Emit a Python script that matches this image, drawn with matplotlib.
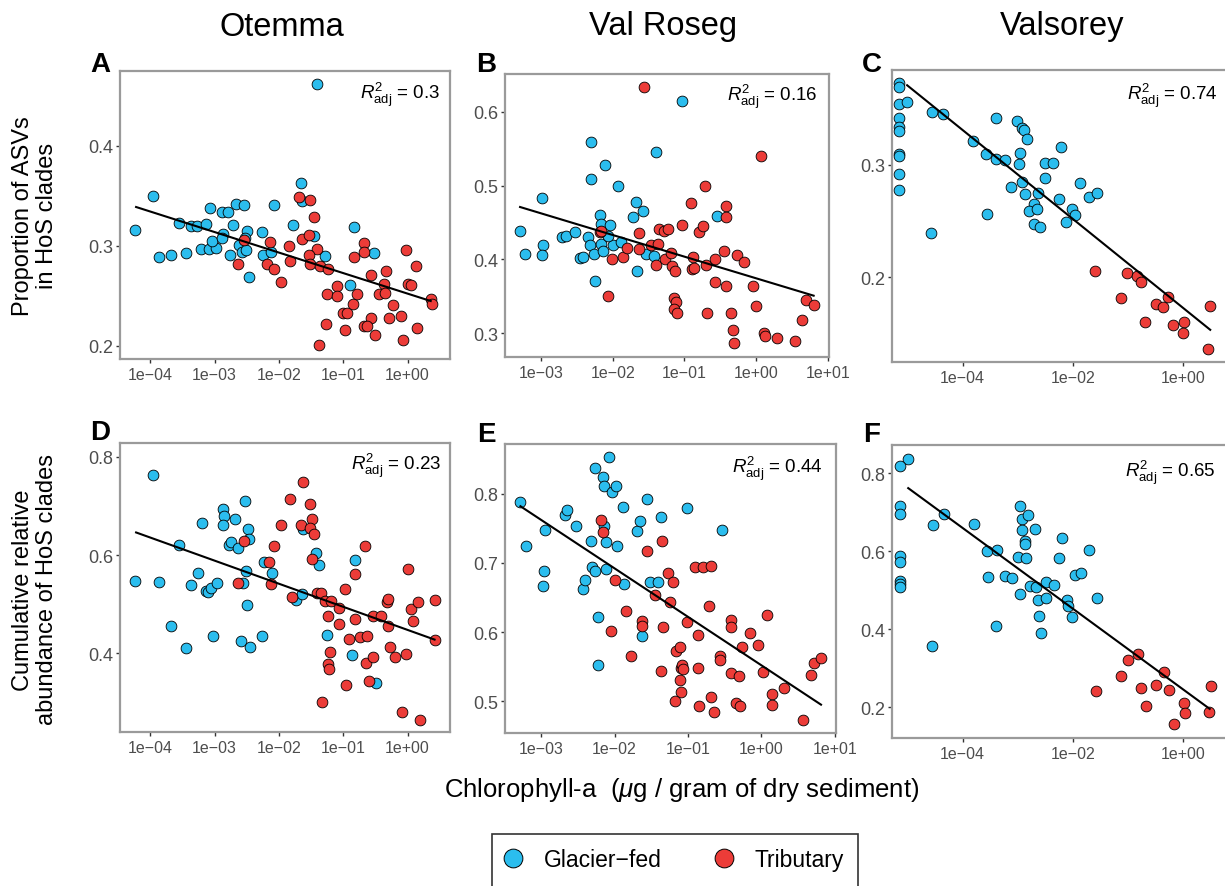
import numpy as np
import matplotlib
matplotlib.use("Agg")
import matplotlib.pyplot as plt
from matplotlib.lines import Line2D
from matplotlib.patches import Rectangle
from matplotlib.ticker import NullLocator

# chlorophyll-a is kept as log10(ug / g dry sediment)

# A - Otemma, proportion of ASVs in HoS clades
a_gf_x = [-1.41, -4.23, -3.96, -3.86, -3.68, -3.55, -3.45, -3.37, -3.27, -3.14, -3.21, -3.09, -2.97, -3.07,
          -3.04, -2.88, -2.79, -2.87, -2.89, -2.67, -2.54, -2.71, -2.76, -2.62, -2.57, -2.51, -2.49, -2.52,
          -2.46, -2.27, -2.25, -2.13, -2.07, -1.78, -1.66, -1.64, -1.45, -1.28, -0.89, -0.83, -0.52]
a_gf_y = [0.462, 0.316, 0.350, 0.289, 0.291, 0.323, 0.293, 0.320, 0.320, 0.322, 0.297, 0.297, 0.298, 0.338,
          0.305, 0.334, 0.334, 0.312, 0.308, 0.342, 0.341, 0.321, 0.291, 0.301, 0.294, 0.296, 0.315, 0.308,
          0.269, 0.314, 0.291, 0.294, 0.341, 0.321, 0.363, 0.345, 0.310, 0.290, 0.261, 0.319, 0.293]
a_tr_x = [-2.54, -2.64, -2.18, -2.14, -2.08, -1.97, -1.85, -1.82, -1.68, -1.51, -1.46, -1.64, -1.53, -1.40,
          -1.53, -1.51, -1.36, -1.23, -1.37, -1.09, -1.25, -1.09, -1.26, -1.00, -0.94, -0.98, -0.85, -0.79,
          -0.84, -0.68, -0.67, -0.57, -0.57, -0.68, -0.63, -0.51, -0.45, -0.36, -0.33, -0.35, -0.29, -0.23,
          -0.10, -0.07, -0.03, 0.01, 0.05, 0.13, 0.15, 0.37, 0.38]
a_tr_y = [0.306, 0.282, 0.282, 0.304, 0.277, 0.264, 0.300, 0.285, 0.349, 0.346, 0.329, 0.307, 0.311, 0.297,
          0.291, 0.282, 0.280, 0.277, 0.201, 0.260, 0.252, 0.250, 0.222, 0.233, 0.233, 0.216, 0.242, 0.252,
          0.289, 0.303, 0.294, 0.271, 0.228, 0.220, 0.220, 0.211, 0.252, 0.262, 0.275, 0.253, 0.228, 0.241,
          0.230, 0.206, 0.296, 0.262, 0.261, 0.280, 0.218, 0.247, 0.242]
a_fit_x = [-4.22, 0.36]
a_fit_y = [0.339, 0.245]

# B - Val Roseg, proportion of ASVs in HoS clades
b_gf_x = [-3.29, -3.22, -2.98, -2.97, -2.98, -2.70, -2.65, -2.53, -2.45, -2.41, -2.34, -2.32, -2.30, -2.30,
          -2.26, -2.24, -2.17, -2.16, -2.16, -2.14, -2.10, -2.04, -1.99, -2.06, -1.92, -1.89, -1.71, -1.67,
          -1.66, -1.58, -1.53, -1.42, -1.40, -1.03, -0.55]
b_gf_y = [0.438, 0.407, 0.483, 0.420, 0.406, 0.430, 0.432, 0.437, 0.402, 0.404, 0.430, 0.419, 0.559, 0.509,
          0.408, 0.371, 0.460, 0.448, 0.421, 0.412, 0.528, 0.446, 0.420, 0.432, 0.499, 0.423, 0.457, 0.478,
          0.384, 0.466, 0.407, 0.405, 0.546, 0.615, 0.459]
b_tr_x = [-1.57, -2.18, -2.16, -2.06, -2.01, -1.85, -1.80, -1.63, -1.63, -1.46, -1.37, -1.39, -1.36, -1.29,
          -1.23, -1.27, -1.19, -1.18, -1.13, -1.14, -1.12, -1.14, -1.10, -1.03, -0.91, -0.88, -0.89, -0.87,
          -0.80, -0.74, -0.71, -0.70, -0.68, -0.58, -0.58, -0.45, -0.42, -0.42, -0.42, -0.35, -0.33, -0.31,
          -0.27, -0.17, -0.05, 0.00, 0.06, 0.11, 0.12, 0.29, 0.54, 0.64, 0.70, 0.80]
b_tr_y = [0.634, 0.437, 0.438, 0.350, 0.400, 0.403, 0.416, 0.436, 0.414, 0.419, 0.421, 0.392, 0.441, 0.439,
          0.441, 0.401, 0.409, 0.391, 0.384, 0.348, 0.342, 0.333, 0.328, 0.447, 0.477, 0.403, 0.387, 0.389,
          0.437, 0.445, 0.499, 0.393, 0.327, 0.369, 0.400, 0.412, 0.473, 0.457, 0.364, 0.327, 0.304, 0.287,
          0.406, 0.396, 0.364, 0.337, 0.540, 0.300, 0.296, 0.294, 0.290, 0.318, 0.345, 0.339]
b_fit_x = [-3.29, 0.80]
b_fit_y = [0.471, 0.351]

# C - Valsorey, proportion of ASVs in HoS clades
c_gf_x = [-5.16, -5.16, -5.16, -5.01, -5.16, -5.16, -5.16, -5.16, -5.16, -5.16, -5.16, -4.55, -4.35, -4.57,
          -3.81, -3.57, -3.55, -3.40, -3.39, -3.23, -3.13, -3.01, -2.96, -2.98, -2.93, -2.89, -2.83, -2.93,
          -2.86, -2.70, -2.80, -2.64, -2.70, -2.60, -2.63, -2.51, -2.51, -2.36, -2.21, -2.25, -2.12, -2.01,
          -1.95, -1.86, -1.71, -1.56]
c_gf_y = [0.373, 0.369, 0.354, 0.356, 0.342, 0.334, 0.330, 0.310, 0.308, 0.292, 0.278, 0.347, 0.345, 0.239,
          0.321, 0.310, 0.256, 0.342, 0.305, 0.304, 0.280, 0.339, 0.311, 0.301, 0.333, 0.331, 0.323, 0.285,
          0.274, 0.265, 0.259, 0.261, 0.247, 0.245, 0.275, 0.288, 0.302, 0.302, 0.316, 0.270, 0.249, 0.261,
          0.255, 0.284, 0.271, 0.275]
c_tr_x = [-1.59, -1.13, -1.01, -0.83, -0.75, -0.69, -0.49, -0.36, -0.27, -0.17, 0.02, 0.01, 0.46, 0.50]
c_tr_y = [0.205, 0.181, 0.204, 0.201, 0.196, 0.160, 0.176, 0.173, 0.182, 0.157, 0.160, 0.150, 0.136, 0.174]
c_fit_x = [-5.01, 0.50]
c_fit_y = [0.371, 0.153]

# D - Otemma, cumulative relative abundance of HoS clades
d_gf_x = [-4.23, -3.96, -3.86, -3.68, -3.55, -3.45, -3.36, -3.26, -3.20, -3.13, -3.10, -3.06, -2.96, -3.03,
          -2.87, -2.86, -2.87, -2.69, -2.78, -2.75, -2.64, -2.53, -2.48, -2.47, -2.51, -2.56, -2.49, -2.59,
          -2.45, -2.26, -2.23, -2.11, -1.74, -1.64, -1.63, -1.43, -1.38, -1.25, -0.87, -0.81, -0.49]
d_gf_y = [0.548, 0.763, 0.546, 0.455, 0.621, 0.411, 0.540, 0.563, 0.666, 0.526, 0.524, 0.534, 0.544, 0.436,
          0.693, 0.680, 0.662, 0.673, 0.620, 0.626, 0.614, 0.709, 0.653, 0.632, 0.567, 0.544, 0.499, 0.425,
          0.413, 0.436, 0.586, 0.563, 0.509, 0.521, 0.653, 0.604, 0.580, 0.438, 0.396, 0.589, 0.340]
d_tr_x = [-2.64, -2.54, -2.16, -2.12, -2.07, -1.96, -1.83, -1.79, -1.66, -1.62, -1.51, -1.49, -1.51, -1.45,
          -1.49, -1.40, -1.34, -1.29, -1.19, -1.23, -1.20, -1.23, -1.22, -1.33, -1.06, -1.06, -0.98, -0.95,
          -0.91, -0.82, -0.81, -0.74, -0.63, -0.66, -0.65, -0.54, -0.60, -0.53, -0.42, -0.32, -0.30, -0.31,
          -0.27, -0.19, -0.03, -0.08, 0.01, 0.05, 0.09, 0.17, 0.19, 0.42, 0.42]
d_tr_y = [0.544, 0.628, 0.585, 0.542, 0.618, 0.662, 0.714, 0.514, 0.662, 0.748, 0.704, 0.674, 0.656, 0.643,
          0.592, 0.523, 0.523, 0.506, 0.507, 0.477, 0.402, 0.379, 0.369, 0.301, 0.492, 0.460, 0.531, 0.336,
          0.429, 0.470, 0.561, 0.433, 0.436, 0.619, 0.380, 0.392, 0.343, 0.477, 0.475, 0.504, 0.511, 0.455,
          0.413, 0.392, 0.398, 0.281, 0.572, 0.490, 0.465, 0.504, 0.265, 0.509, 0.428]
d_fit_x = [-4.22, 0.42]
d_fit_y = [0.646, 0.428]

# E - Val Roseg, cumulative relative abundance of HoS clades
e_gf_x = [-3.28, -3.21, -2.95, -2.96, -2.97, -2.68, -2.64, -2.52, -2.43, -2.40, -2.32, -2.31, -2.27, -2.27,
          -2.22, -2.23, -2.15, -2.14, -2.14, -2.11, -2.11, -2.08, -2.03, -1.98, -1.97, -1.89, -1.87, -1.69,
          -1.65, -1.56, -1.63, -1.52, -1.41, -1.37, -1.01, -0.54]
e_gf_y = [0.788, 0.725, 0.747, 0.689, 0.666, 0.770, 0.777, 0.753, 0.663, 0.675, 0.731, 0.694, 0.689, 0.837,
          0.622, 0.552, 0.824, 0.811, 0.753, 0.730, 0.691, 0.853, 0.802, 0.811, 0.724, 0.781, 0.669, 0.746,
          0.760, 0.793, 0.594, 0.673, 0.672, 0.766, 0.779, 0.748]
e_tr_x = [-2.18, -2.15, -1.99, -2.05, -1.84, -1.78, -1.62, -1.62, -1.56, -1.45, -1.36, -1.34, -1.37, -1.27,
          -1.21, -1.25, -1.16, -1.11, -1.10, -1.08, -1.07, -1.11, -1.09, -1.18, -1.02, -0.90, -0.79, -0.69,
          -0.86, -0.87, -0.85, -0.72, -0.69, -0.65, -0.57, -0.56, -0.42, -0.42, -0.41, -0.31, -0.34, -0.29,
          -0.26, -0.16, -0.05, 0.02, 0.08, 0.14, 0.14, 0.31, 0.57, 0.67, 0.72, 0.81]
e_tr_y = [0.762, 0.745, 0.676, 0.602, 0.631, 0.566, 0.616, 0.609, 0.717, 0.654, 0.731, 0.607, 0.543, 0.686,
          0.672, 0.643, 0.572, 0.578, 0.548, 0.552, 0.546, 0.530, 0.513, 0.500, 0.615, 0.694, 0.694, 0.696,
          0.596, 0.548, 0.493, 0.638, 0.506, 0.485, 0.566, 0.559, 0.618, 0.607, 0.541, 0.536, 0.498, 0.493,
          0.578, 0.599, 0.581, 0.542, 0.625, 0.511, 0.495, 0.519, 0.473, 0.538, 0.555, 0.562]
e_fit_x = [-3.28, 0.81]
e_fit_y = [0.782, 0.495]

# F - Valsorey, cumulative relative abundance of HoS clades
f_gf_x = [-4.99, -5.14, -5.14, -5.14, -5.14, -5.14, -5.14, -5.14, -5.14, -4.55, -4.54, -4.34, -3.80, -3.55,
          -3.37, -3.54, -3.39, -3.23, -3.11, -2.96, -2.93, -2.81, -2.92, -2.87, -2.87, -2.69, -2.99, -2.84,
          -2.96, -2.78, -2.66, -2.63, -2.61, -2.58, -2.49, -2.49, -2.34, -2.25, -2.20, -2.10, -2.08, -2.01,
          -1.95, -1.85, -1.70, -1.55]
f_gf_y = [0.837, 0.820, 0.715, 0.696, 0.589, 0.572, 0.525, 0.516, 0.509, 0.358, 0.668, 0.696, 0.670, 0.602,
          0.604, 0.535, 0.409, 0.536, 0.531, 0.717, 0.683, 0.693, 0.655, 0.627, 0.619, 0.657, 0.585, 0.583,
          0.491, 0.510, 0.509, 0.476, 0.433, 0.391, 0.480, 0.521, 0.514, 0.583, 0.634, 0.474, 0.461, 0.432,
          0.538, 0.544, 0.604, 0.480]
f_tr_x = [-1.58, -1.12, -0.99, -0.81, -0.75, -0.67, -0.48, -0.34, -0.25, -0.16, 0.02, 0.04, 0.48, 0.52]
f_tr_y = [0.243, 0.281, 0.321, 0.337, 0.250, 0.204, 0.257, 0.290, 0.245, 0.156, 0.210, 0.185, 0.187, 0.254]
f_fit_x = [-4.99, 0.49]
f_fit_y = [0.762, 0.196]

r2_labels = ["0.3", "0.16", "0.74", "0.23", "0.44", "0.65"]
sites = ["Otemma", "Val Roseg", "Valsorey"]
panel_letters = ["A", "B", "C", "D", "E", "F"]
group_names = ["Glacier\u2212fed", "Tributary"]

xtick_exps_otemma = [-4, -3, -2, -1, 0]
xtick_exps_roseg = [-3, -2, -1, 0, 1]
xtick_exps_valsorey = [-4, -2, 0]
yticks_top = [[0.2, 0.3, 0.4], [0.3, 0.4, 0.5, 0.6], [0.2, 0.3]]
yticks_bottom = [[0.4, 0.6, 0.8], [0.5, 0.6, 0.7, 0.8], [0.2, 0.4, 0.6, 0.8]]

BLUE = "#2BBDEE"
RED = "#EC3C38"
W, H = 1225, 887


def box(left, top, right, bottom):
    return [left / W, 1 - bottom / H, (right - left) / W, (bottom - top) / H]


def fx(x):
    return x / W


def fy(y):
    return 1 - y / H


def exp_label(e):
    return ("1e%+03d" % e).replace("-", "\u2212")


def draw_panel(fig, rect, xlim, ylim, xexps, yticks, gf, tr, fit, r2, r2_pos):
    ax = fig.add_axes(rect)
    ax.set_xscale("log")
    ax.scatter(10 ** np.array(gf[0]), gf[1], s=60, c=BLUE, edgecolors="black", linewidths=0.6, zorder=2)
    ax.scatter(10 ** np.array(tr[0]), tr[1], s=60, c=RED, edgecolors="black", linewidths=0.6, zorder=2)
    ax.plot(10 ** np.array(fit[0]), fit[1], color="black", lw=1.5, zorder=3)
    ax.set_xlim(10 ** xlim[0], 10 ** xlim[1])
    ax.set_ylim(*ylim)
    ax.set_xticks([10.0 ** e for e in xexps])
    ax.set_xticklabels([exp_label(e) for e in xexps])
    ax.xaxis.set_minor_locator(NullLocator())
    ax.set_yticks(yticks)
    ax.set_yticklabels(["%.1f" % v for v in yticks])
    ax.tick_params(axis="x", labelsize=11.5, color="#333333", labelcolor="#4D4D4D", length=3, width=1, pad=3)
    ax.tick_params(axis="y", labelsize=13, color="#333333", labelcolor="#4D4D4D", length=3, width=1, pad=2)
    for sp in ax.spines.values():
        sp.set_color("#9A9A9A")
        sp.set_linewidth(1.6)
    fig.text(fx(r2_pos[0]), fy(r2_pos[1]), r"$R^{2}_{\mathrm{adj}}$ = " + r2,
             ha="right", va="baseline", fontsize=13.5)
    return ax


def main():
    plt.rcParams["font.family"] = ["Liberation Sans", "DejaVu Sans"]
    plt.rcParams["mathtext.fontset"] = "custom"
    plt.rcParams["mathtext.rm"] = "Liberation Sans"
    plt.rcParams["mathtext.it"] = "Liberation Sans:italic"
    plt.rcParams["mathtext.bf"] = "Liberation Sans:bold"

    fig = plt.figure(figsize=(W / 100, H / 100), dpi=100)

    panels = [
        (box(120, 72, 450, 360), (-4.47, 0.66), (0.187, 0.475), xtick_exps_otemma, yticks_top[0],
         (a_gf_x, a_gf_y), (a_tr_x, a_tr_y), (a_fit_x, a_fit_y), (440, 99)),
        (box(505, 75, 829, 358), (-3.50, 1.014), (0.268, 0.651), xtick_exps_roseg, yticks_top[1],
         (b_gf_x, b_gf_y), (b_tr_x, b_tr_y), (b_fit_x, b_fit_y), (818, 101)),
        (box(892, 71, 1227, 363), (-5.285, 0.805), (0.1243, 0.3846), xtick_exps_valsorey, yticks_top[2],
         (c_gf_x, c_gf_y), (c_tr_x, c_tr_y), (c_fit_x, c_fit_y), (1218, 100)),
        (box(120, 444, 450, 733), (-4.47, 0.66), (0.240, 0.828), xtick_exps_otemma, yticks_bottom[0],
         (d_gf_x, d_gf_y), (d_tr_x, d_tr_y), (d_fit_x, d_fit_y), (442, 470)),
        (box(505, 445, 836, 734), (-3.49, 1.014), (0.454, 0.872), xtick_exps_roseg, yticks_bottom[1],
         (e_gf_x, e_gf_y), (e_tr_x, e_tr_y), (e_fit_x, e_fit_y), (823, 473)),
        (box(892, 446, 1227, 739), (-5.285, 0.805), (0.1213, 0.8726), xtick_exps_valsorey, yticks_bottom[2],
         (f_gf_x, f_gf_y), (f_tr_x, f_tr_y), (f_fit_x, f_fit_y), (1216, 477)),
    ]
    for i, p in enumerate(panels):
        draw_panel(fig, p[0], p[1], p[2], p[3], p[4], p[5], p[6], p[7], r2_labels[i], p[8])

    # column titles and panel letters
    for name, x in zip(sites, [282, 663, 1062]):
        fig.text(fx(x), fy(27), name, ha="center", va="center", fontsize=23.5)
    letter_pos = [(100, 72), (486, 72), (872, 72), (100, 440), (486, 442), (872, 442)]
    for letter, (x, y) in zip(panel_letters, letter_pos):
        fig.text(fx(x), fy(y), letter, ha="center", va="baseline", fontsize=20, fontweight="bold")

    # axis titles
    fig.text(fx(35), fy(216), "Proportion of ASVs\nin HoS clades", rotation=90,
             ha="center", va="center", fontsize=17, linespacing=1.1)
    fig.text(fx(35), fy(590), "Cumulative relative\nabundance of HoS clades", rotation=90,
             ha="center", va="center", fontsize=17, linespacing=1.1)
    fig.text(fx(682), fy(790), r"Chlorophyll-a  ($\mu$g / gram of dry sediment)",
             ha="center", va="center", fontsize=18.5)

    # legend
    handles = [Line2D([], [], marker="o", ls="none", markersize=13.5, markerfacecolor=c,
                      markeredgecolor="black", markeredgewidth=0.7) for c in (BLUE, RED)]
    fig.legend(handles, group_names, loc="center", bbox_to_anchor=(fx(673), fy(861)), ncol=2,
               frameon=False, fontsize=16.5, handlelength=1.0, handletextpad=0.85, columnspacing=2.2)
    fig.add_artist(Rectangle((fx(492), -0.05), fx(858) - fx(492), fy(835) + 0.05,
                             transform=fig.transFigure, fill=False, edgecolor="#333333", lw=1.2))

    fig.savefig("out.png", dpi=100)


if __name__ == "__main__":
    main()
